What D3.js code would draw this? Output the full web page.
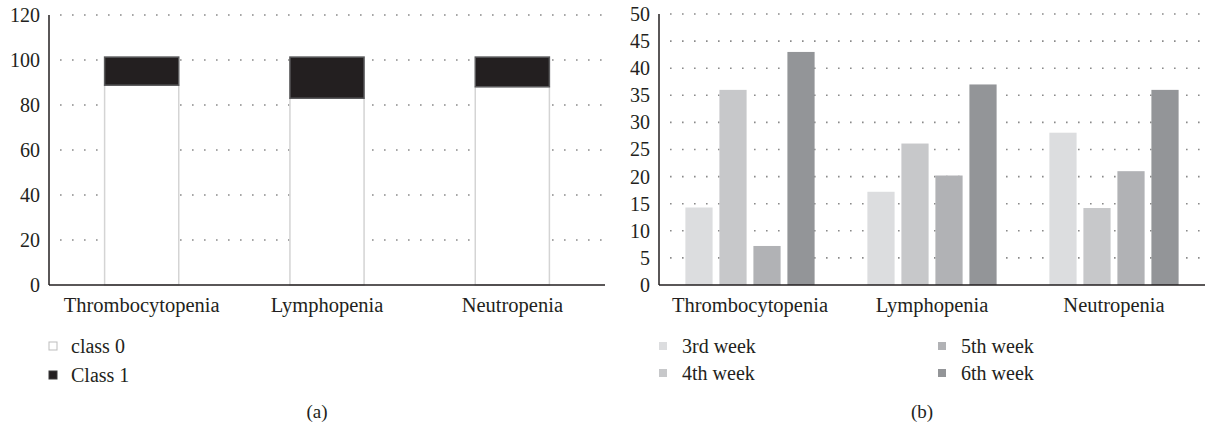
<!DOCTYPE html>
<html>
<head>
<meta charset="utf-8">
<script src="https://cdn.jsdelivr.net/npm/d3@7"></script>
<style>
    body { margin: 0; background: #fff; }
    svg { display: block; }
    text { font-family: "Liberation Serif", "DejaVu Serif", serif; fill: #231f20; }
</style>
</head>
<body>
<svg id="chart" width="1213" height="428"></svg>
<script>
const categories = ['Thrombocytopenia', 'Lymphopenia', 'Neutropenia'];

// (a) class shares
const classNames = ['class 0', 'Class 1'];
const class0 = [88.8, 83.0, 88.1];
const class1 = [12.5, 18.3, 13.2];
const classTicks = [0, 20, 40, 60, 80, 100, 120];

// (b) weeks
const weeks = ['3rd week', '4th week', '5th week', '6th week'];
const week3 = [14.3, 17.2, 28.1];
const week4 = [36.0, 26.1, 14.2];
const week5 = [7.2, 20.2, 21.0];
const week6 = [43.0, 37.0, 36.0];
const weekTicks = [0, 5, 10, 15, 20, 25, 30, 35, 40, 45, 50];

const weekColors = ['#dcdddf', '#c7c8ca', '#b1b2b5', '#939598'];
const svg = d3.select('#chart');

// 公共：坐标轴 + 点状网格
function drawFrame(g, x, y, ticks) {
    const [x0, x1] = x.range();
    const [y0, y1] = y.range();
    const grid = g.append('g').classed('grid', true);
    grid.selectAll('line')
        .data(ticks.filter(t => t > 0))
        .enter()
        .append('line')
        .attr('x1', x0 + 11)
        .attr('x2', x1)
        .attr('y1', d => y(d))
        .attr('y2', d => y(d))
        .attr('stroke', '#8a8a8a')
        .attr('stroke-width', 1.6)
        .attr('stroke-dasharray', '1.6,10.4');

    const yAxis = d3.axisLeft(y).tickValues(ticks).tickSize(0).tickPadding(9);
    g.append('g')
        .attr('transform', `translate(${x0},0)`)
        .call(yAxis)
        .call(a => a.select('.domain').remove())
        .selectAll('text')
        .attr('font-size', 20)
        .attr('font-family', '"Liberation Serif", serif')
        .attr('fill', '#231f20');

    const xAxis = d3.axisBottom(x).tickSize(0).tickPadding(12);
    g.append('g')
        .attr('transform', `translate(0,${y0})`)
        .call(xAxis)
        .call(a => a.select('.domain').remove())
        .selectAll('text')
        .attr('font-size', 20.5)
        .attr('font-family', '"Liberation Serif", serif')
        .attr('fill', '#231f20');
    return {x0, x1, y0, y1};
}

function drawAxisLines(g, f) {
    g.append('line').attr('x1', f.x0).attr('x2', f.x0).attr('y1', f.y1).attr('y2', f.y0)
        .attr('stroke', '#231f20').attr('stroke-width', 1.5);
    g.append('line').attr('x1', f.x0).attr('x2', f.x1).attr('y1', f.y0).attr('y2', f.y0)
        .attr('stroke', '#231f20').attr('stroke-width', 1.5);
}

/* ---------- (a) 堆叠柱状图 ---------- */
{
    const g = svg.append('g').classed('left', true);
    const x = d3.scaleBand().domain(categories).range([49, 605])
        .paddingInner(0.6).paddingOuter(0.3);
    const y = d3.scaleLinear().domain([0, 120]).range([285, 15]);
    const f = drawFrame(g, x, y, classTicks);

    const rows = categories.map((c, i) => ({cat: c, c0: class0[i], c1: class1[i]}));
    const stacked = d3.stack().keys(['c0', 'c1'])(rows);
    const fills = ['#ffffff', '#231f20'];
    const strokes = ['#d4d4d4', '#5a5a5c'];
    stacked.forEach((layer, k) => {
        g.append('g').selectAll('rect')
            .data(layer)
            .enter()
            .append('rect')
            .attr('x', d => x(d.data.cat))
            .attr('width', x.bandwidth())
            .attr('y', d => y(d[1]))
            .attr('height', d => y(d[0]) - y(d[1]))
            .attr('fill', fills[k])
            .attr('stroke', strokes[k])
            .attr('stroke-width', 1.5);
    });
    drawAxisLines(g, f);

    const legend = g.append('g').selectAll('g')
        .data(classNames)
        .enter()
        .append('g')
        .attr('transform', (d, i) => `translate(49,${346 + i * 29})`);
    legend.append('rect')
        .attr('x', 0).attr('y', -4).attr('width', 8).attr('height', 8)
        .attr('fill', (d, i) => fills[i])
        .attr('stroke', (d, i) => i === 0 ? '#bdbdbd' : '#3a3a3a')
        .attr('stroke-width', 1);
    legend.append('text')
        .attr('x', 22).attr('dy', '0.35em')
        .attr('font-size', 20)
        .text(d => d);

    g.append('text').attr('x', 317).attr('y', 418)
        .attr('text-anchor', 'middle').attr('font-size', 19).text('(a)');
}

/* ---------- (b) 分组柱状图 ---------- */
{
    const g = svg.append('g').classed('right', true);
    const x = d3.scaleBand().domain(categories).range([659, 1205])
        .paddingInner(0.29).paddingOuter(0.145);
    const xs = d3.scaleBand().domain(weeks).range([0, x.bandwidth()])
        .paddingInner(0.2);
    const y = d3.scaleLinear().domain([0, 50]).range([285, 14]);
    const f = drawFrame(g, x, y, weekTicks);

    const series = [week3, week4, week5, week6];
    const groups = g.append('g').selectAll('g')
        .data(categories)
        .enter()
        .append('g')
        .attr('transform', d => `translate(${x(d)},0)`);
    groups.selectAll('rect')
        .data((c, i) => weeks.map((w, k) => ({week: w, k: k, v: series[k][i]})))
        .enter()
        .append('rect')
        .attr('x', d => xs(d.week))
        .attr('width', xs.bandwidth())
        .attr('y', d => y(d.v))
        .attr('height', d => y(0) - y(d.v))
        .attr('fill', d => weekColors[d.k]);
    drawAxisLines(g, f);

    const legend = g.append('g').selectAll('g')
        .data(weeks)
        .enter()
        .append('g')
        .attr('transform', (d, i) => `translate(${i < 2 ? 659 : 938},${346 + (i % 2) * 27})`);
    legend.append('rect')
        .attr('x', 0).attr('y', -4).attr('width', 8).attr('height', 8)
        .attr('fill', (d, i) => weekColors[i]);
    legend.append('text')
        .attr('x', 23).attr('dy', '0.35em')
        .attr('font-size', 20)
        .text(d => d);

    g.append('text').attr('x', 922).attr('y', 418)
        .attr('text-anchor', 'middle').attr('font-size', 19).text('(b)');
}
</script>
</body>
</html>
